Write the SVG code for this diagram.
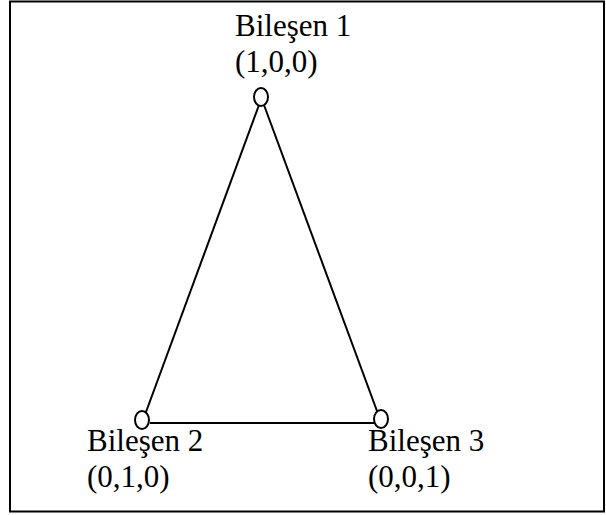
<svg xmlns="http://www.w3.org/2000/svg" width="606" height="515" viewBox="0 0 606 515">
<style>
text{font-family:"Liberation Serif","Times New Roman",serif;font-size:31px;fill:#000}
.v{fill:#fff;stroke:#000;stroke-width:2}
.e{stroke:#000;stroke-width:2;fill:none}
</style>
<rect x="0" y="0" width="606" height="515" fill="#fff"/>
<rect x="10" y="1.5" width="594" height="510" fill="none" stroke="#000" stroke-width="2"/>
<g id="connectors">
<line class="e" x1="259" y1="105" x2="146" y2="412"/>
<line class="e" x1="264" y1="105" x2="377" y2="411"/>
<line class="e" x1="150" y1="423" x2="374" y2="423"/>
</g>
<g id="node1">
<ellipse class="v" cx="261" cy="97" rx="7" ry="9"/>
<text x="235" y="36">Bileşen 1</text>
<text x="235" y="72">(1,0,0)</text>
</g>
<g id="node2">
<ellipse class="v" cx="142" cy="420" rx="7" ry="9"/>
<text x="87" y="451">Bileşen 2</text>
<text x="87" y="487">(0,1,0)</text>
</g>
<g id="node3">
<ellipse class="v" cx="381" cy="419" rx="7" ry="9"/>
<text x="368" y="451">Bileşen 3</text>
<text x="368" y="487">(0,0,1)</text>
</g>
</svg>
